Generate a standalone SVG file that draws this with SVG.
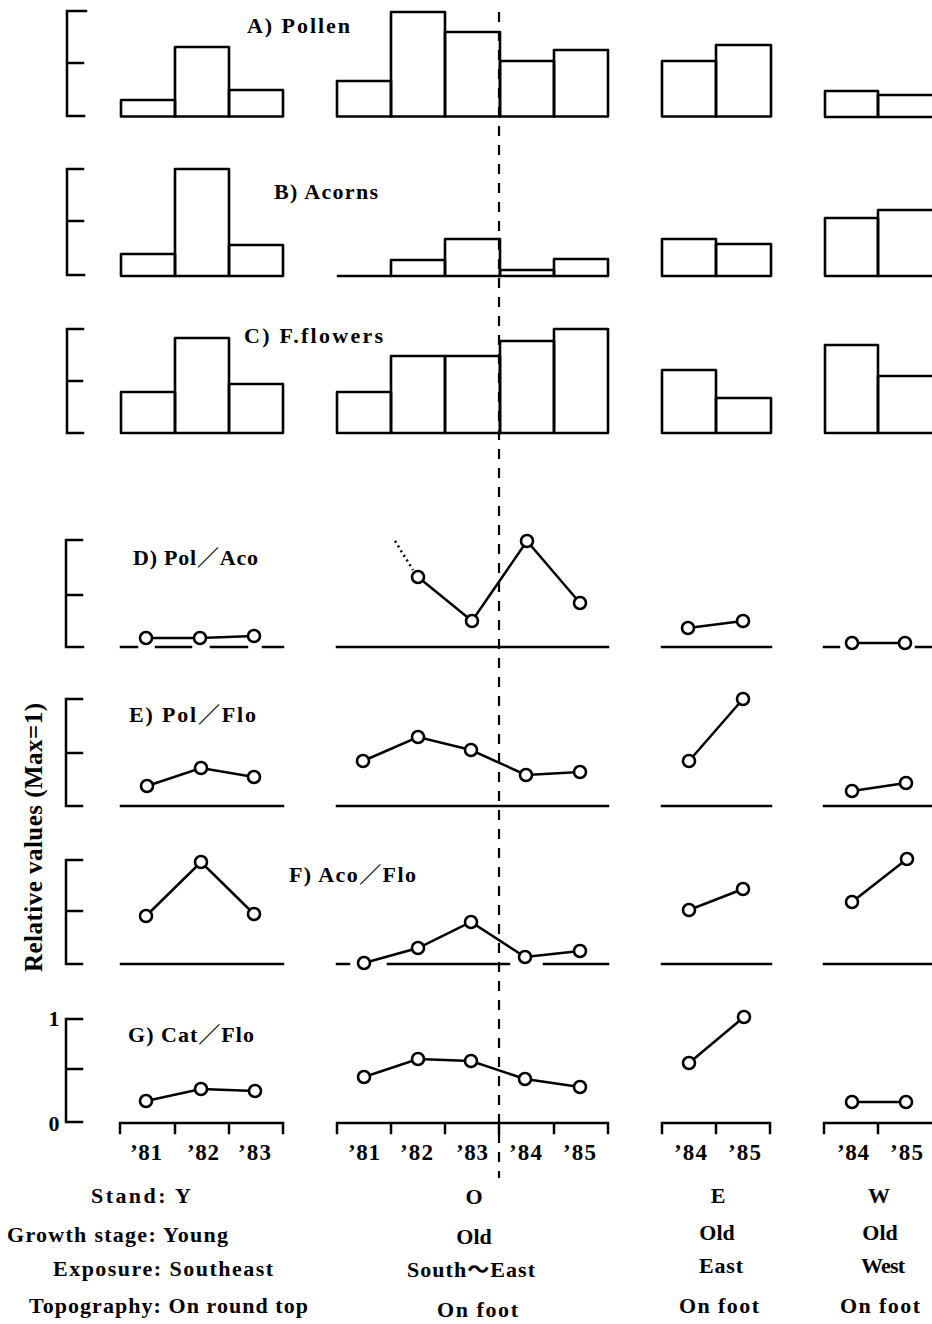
<svg xmlns="http://www.w3.org/2000/svg" width="932" height="1324" viewBox="0 0 932 1324">
<style>
.ax{fill:none;stroke:#000;stroke-width:2.5;stroke-linecap:square}
.bar{fill:none;stroke:#000;stroke-width:2.6;stroke-linejoin:round}
.ln{fill:none;stroke:#000;stroke-width:2.5}
.pt{fill:#fff;stroke:#000;stroke-width:2.6}
.t{font-family:"Liberation Serif","Noto Sans CJK JP",serif;font-weight:bold;font-size:22px;fill:#000}
.y{font-family:"Liberation Serif","Noto Sans CJK JP",serif;font-weight:bold;font-size:23px;fill:#000}
</style>
<rect width="932" height="1324" fill="#fff"/>

<g id="axes">
<path class="ax" d="M86,11H67V116H84M67,63H83"/>
<path class="ax" d="M83,169H67V275H84M67,221H83"/>
<path class="ax" d="M83,329H67V433H83M67,381H82"/>
<path class="ax" d="M82,540H66V647H83M66,595H82"/>
<path class="ax" d="M82,699H66V806H82M66,753H82"/>
<path class="ax" d="M82,860H66V964H82M66,911H82"/>
<path class="ax" d="M82,1019H66V1122H82M66,1069H82"/>
<path class="ax" d="M120,1133V1123H283V1133M175,1123V1133M229,1123V1133"/>
<path class="ax" d="M337,1133V1123H608V1133M391,1123V1133M445,1123V1133M499,1123V1133M554,1123V1133"/>
<path class="ax" d="M662,1133V1123H770V1133M716,1123V1133"/>
<path class="ax" d="M824,1133V1123H934M878,1123V1133"/>
</g>

<g id="dashed-divider">
<line x1="499" y1="12" x2="499" y2="1178" stroke="#000" stroke-width="2.2" stroke-dasharray="10 9"/>
</g>

<g id="panel-A">
<rect class="bar" x="121" y="100" width="54" height="16.5"/>
<rect class="bar" x="175" y="47" width="54" height="69.5"/>
<rect class="bar" x="229" y="90" width="54" height="26.5"/>
<rect class="bar" x="337" y="81" width="54" height="35.5"/>
<rect class="bar" x="391" y="12" width="54" height="104.5"/>
<rect class="bar" x="445" y="32" width="55" height="84.5"/>
<rect class="bar" x="500" y="61" width="54" height="55.5"/>
<rect class="bar" x="554" y="50" width="54" height="66.5"/>
<rect class="bar" x="662" y="61" width="54" height="55.5"/>
<rect class="bar" x="716" y="45" width="55" height="71.5"/>
<rect class="bar" x="825" y="91" width="53" height="26"/>
<rect class="bar" x="878" y="95" width="56" height="22"/>
<text class="t" x="247" y="33" textLength="103" lengthAdjust="spacing">A) Pollen</text>
</g>

<g id="panel-B">
<rect class="bar" x="121" y="254" width="54" height="22"/>
<rect class="bar" x="175" y="169" width="54" height="107"/>
<rect class="bar" x="229" y="245" width="54" height="31"/>
<line class="ax" x1="338" y1="276" x2="391" y2="276"/>
<rect class="bar" x="391" y="260" width="54" height="16"/>
<rect class="bar" x="445" y="239" width="55" height="37"/>
<rect class="bar" x="500" y="270" width="54" height="6"/>
<rect class="bar" x="554" y="259" width="54" height="17"/>
<rect class="bar" x="662" y="239" width="54" height="37"/>
<rect class="bar" x="716" y="244" width="55" height="32"/>
<rect class="bar" x="825" y="218" width="53" height="58"/>
<rect class="bar" x="878" y="210" width="56" height="66"/>
<text class="t" x="274" y="199" textLength="104" lengthAdjust="spacing">B) Acorns</text>
</g>

<g id="panel-C">
<rect class="bar" x="121" y="392" width="54" height="41"/>
<rect class="bar" x="175" y="338" width="54" height="95"/>
<rect class="bar" x="229" y="384" width="54" height="49"/>
<rect class="bar" x="337" y="392" width="54" height="41"/>
<rect class="bar" x="391" y="356" width="54" height="77"/>
<rect class="bar" x="445" y="356" width="55" height="77"/>
<rect class="bar" x="500" y="341" width="54" height="92"/>
<rect class="bar" x="554" y="329" width="54" height="104"/>
<rect class="bar" x="662" y="370" width="54" height="63"/>
<rect class="bar" x="716" y="398" width="55" height="35"/>
<rect class="bar" x="825" y="345" width="53" height="88"/>
<rect class="bar" x="878" y="376" width="56" height="57"/>
<text class="t" x="244" y="343" textLength="139" lengthAdjust="spacing">C) F.flowers</text>
</g>

<g id="panel-D">
<path class="ax" d="M121,647H137M156,647H191M211,647H247M263,647H283"/>
<path class="ax" d="M337,647H608"/>
<path class="ax" d="M662,647H771"/>
<path class="ax" d="M824,647H839M916,647H932"/>
<g id="connectors-D">
<polyline class="ln" points="146,638 200,638 254,636"/>
<line class="ln" x1="395" y1="541" x2="413" y2="570" stroke-dasharray="2 3.5"/>
<polyline class="ln" points="418,577 472,621 527,541 580,603"/>
<line class="ln" x1="688" y1="628" x2="743" y2="621"/>
<line class="ln" x1="852" y1="643" x2="905" y2="643"/>
</g>
<circle class="pt" cx="146" cy="638" r="6"/><circle class="pt" cx="200" cy="638" r="6"/><circle class="pt" cx="254" cy="636" r="6"/>
<circle class="pt" cx="418" cy="577" r="6"/><circle class="pt" cx="472" cy="621" r="6"/><circle class="pt" cx="527" cy="541" r="6"/><circle class="pt" cx="580" cy="603" r="6"/>
<circle class="pt" cx="688" cy="628" r="6"/><circle class="pt" cx="743" cy="621" r="6"/>
<circle class="pt" cx="852" cy="643" r="6"/><circle class="pt" cx="905" cy="643" r="6"/>
<text class="t" x="133" y="565" textLength="125" lengthAdjust="spacing">D) Pol／Aco</text>
</g>

<g id="panel-E">
<path class="ax" d="M121,806H283M337,806H608M662,806H771M824,806H932"/>
<g id="connectors-E">
<polyline class="ln" points="147,786 201,768 254,777"/>
<polyline class="ln" points="363,761 418,737 471,750 526,775 580,772"/>
<line class="ln" x1="689" y1="761" x2="743" y2="699"/>
<line class="ln" x1="852" y1="791" x2="906" y2="783"/>
</g>
<circle class="pt" cx="147" cy="786" r="6"/><circle class="pt" cx="201" cy="768" r="6"/><circle class="pt" cx="254" cy="777" r="6"/>
<circle class="pt" cx="363" cy="761" r="6"/><circle class="pt" cx="418" cy="737" r="6"/><circle class="pt" cx="471" cy="750" r="6"/><circle class="pt" cx="526" cy="775" r="6"/><circle class="pt" cx="580" cy="772" r="6"/>
<circle class="pt" cx="689" cy="761" r="6"/><circle class="pt" cx="743" cy="699" r="6"/>
<circle class="pt" cx="852" cy="791" r="6"/><circle class="pt" cx="906" cy="783" r="6"/>
<text class="t" x="129" y="722" textLength="127" lengthAdjust="spacing">E) Pol／Flo</text>
</g>

<g id="panel-F">
<path class="ax" d="M121,964H283M337,964H349M388,964H509M544,964H608M662,964H771M824,964H932"/>
<g id="connectors-F">
<polyline class="ln" points="146,916 201,862 254,914"/>
<polyline class="ln" points="364,963 418,948 471,922 525,957 580,951"/>
<line class="ln" x1="689" y1="910" x2="743" y2="889"/>
<line class="ln" x1="852" y1="902" x2="907" y2="859"/>
</g>
<circle class="pt" cx="146" cy="916" r="6"/><circle class="pt" cx="201" cy="862" r="6"/><circle class="pt" cx="254" cy="914" r="6"/>
<circle class="pt" cx="364" cy="963" r="6"/><circle class="pt" cx="418" cy="948" r="6"/><circle class="pt" cx="471" cy="922" r="6"/><circle class="pt" cx="525" cy="957" r="6"/><circle class="pt" cx="580" cy="951" r="6"/>
<circle class="pt" cx="689" cy="910" r="6"/><circle class="pt" cx="743" cy="889" r="6"/>
<circle class="pt" cx="852" cy="902" r="6"/><circle class="pt" cx="907" cy="859" r="6"/>
<text class="t" x="289" y="882" textLength="127" lengthAdjust="spacing">F) Aco／Flo</text>
</g>

<g id="panel-G">
<g id="connectors-G">
<polyline class="ln" points="146,1101 201,1089 255,1091"/>
<polyline class="ln" points="364,1077 418,1059 471,1061 525,1079 580,1087"/>
<line class="ln" x1="689" y1="1063" x2="744" y2="1017"/>
<line class="ln" x1="852" y1="1102" x2="906" y2="1102"/>
</g>
<circle class="pt" cx="146" cy="1101" r="6"/><circle class="pt" cx="201" cy="1089" r="6"/><circle class="pt" cx="255" cy="1091" r="6"/>
<circle class="pt" cx="364" cy="1077" r="6"/><circle class="pt" cx="418" cy="1059" r="6"/><circle class="pt" cx="471" cy="1061" r="6"/><circle class="pt" cx="525" cy="1079" r="6"/><circle class="pt" cx="580" cy="1087" r="6"/>
<circle class="pt" cx="689" cy="1063" r="6"/><circle class="pt" cx="744" cy="1017" r="6"/>
<circle class="pt" cx="852" cy="1102" r="6"/><circle class="pt" cx="906" cy="1102" r="6"/>
<text class="t" x="128" y="1042" textLength="126" lengthAdjust="spacing">G) Cat／Flo</text>
<text class="t" x="54" y="1026" text-anchor="middle">1</text>
<text class="t" x="54" y="1131" text-anchor="middle">0</text>
</g>

<g id="y-title">
<text class="t" transform="translate(42,972) rotate(-90)" x="0" y="0" style="font-size:25px" textLength="269" lengthAdjust="spacing">Relative values (Max=1)</text>
</g>

<g id="year-labels">
<text class="y" x="130" y="1160" textLength="32" lengthAdjust="spacing">’81</text>
<text class="y" x="187" y="1160" textLength="32" lengthAdjust="spacing">’82</text>
<text class="y" x="238" y="1160" textLength="33" lengthAdjust="spacing">’83</text>
<text class="y" x="348" y="1160" textLength="32" lengthAdjust="spacing">’81</text>
<text class="y" x="400" y="1160" textLength="33" lengthAdjust="spacing">’82</text>
<text class="y" x="456" y="1160" textLength="32" lengthAdjust="spacing">’83</text>
<text class="y" x="509" y="1160" textLength="33" lengthAdjust="spacing">’84</text>
<text class="y" x="563" y="1160" textLength="33" lengthAdjust="spacing">’85</text>
<text class="y" x="674" y="1160" textLength="33" lengthAdjust="spacing">’84</text>
<text class="y" x="728" y="1160" textLength="33" lengthAdjust="spacing">’85</text>
<text class="y" x="837" y="1160" textLength="32" lengthAdjust="spacing">’84</text>
<text class="y" x="890" y="1160" textLength="33" lengthAdjust="spacing">’85</text>
</g>

<g id="stand-table">
<text class="t" x="91" y="1203" textLength="100" lengthAdjust="spacing">Stand: Y</text>
<text class="t" x="7" y="1242" textLength="221" lengthAdjust="spacing">Growth stage: Young</text>
<text class="t" x="53" y="1276" textLength="220" lengthAdjust="spacing">Exposure: Southeast</text>
<text class="t" x="29" y="1313" textLength="279" lengthAdjust="spacing">Topography: On round top</text>
<text class="t" x="474" y="1204" text-anchor="middle">O</text>
<text class="t" x="474" y="1244" text-anchor="middle">Old</text>
<text class="t" x="407" y="1277" textLength="128" lengthAdjust="spacing">South〜East</text>
<text class="t" x="437" y="1317" textLength="81" lengthAdjust="spacing">On foot</text>
<text class="t" x="718" y="1203" text-anchor="middle">E</text>
<text class="t" x="717" y="1240" text-anchor="middle">Old</text>
<text class="t" x="699" y="1273" textLength="44" lengthAdjust="spacing">East</text>
<text class="t" x="679" y="1313" textLength="80" lengthAdjust="spacing">On foot</text>
<text class="t" x="879" y="1203" text-anchor="middle">W</text>
<text class="t" x="880" y="1240" text-anchor="middle">Old</text>
<text class="t" x="861" y="1273" textLength="44" lengthAdjust="spacing">West</text>
<text class="t" x="840" y="1313" textLength="80" lengthAdjust="spacing">On foot</text>
</g>
</svg>
